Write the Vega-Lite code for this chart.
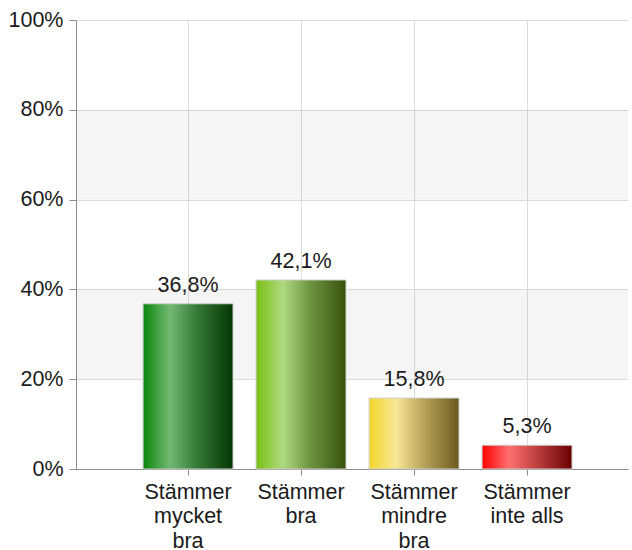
{
  "$schema": "https://vega.github.io/schema/vega-lite/v6.json",
  "autosize": {"type": "none"},
  "width": 552,
  "height": 449,
  "padding": {"left": 76, "top": 20, "right": 4, "bottom": 81},
  "background": "white",
  "config": {
    "view": {"stroke": null},
    "font": "Liberation Sans",
    "text": {"font": "Liberation Sans"}
  },
  "datasets": {
    "bars": [
      {"kategori": "Stämmer mycket bra", "andel": 36.8, "etikett": "36,8%"},
      {"kategori": "Stämmer bra", "andel": 42.1, "etikett": "42,1%"},
      {"kategori": "Stämmer mindre bra", "andel": 15.8, "etikett": "15,8%"},
      {"kategori": "Stämmer inte alls", "andel": 5.3, "etikett": "5,3%"}
    ],
    "bands": [
      {"fran": 20, "till": 40},
      {"fran": 60, "till": 80}
    ]
  },
  "layer": [
    {
      "data": {"name": "bars"},
      "mark": {"type": "bar", "opacity": 0},
      "encoding": {
        "x": {
          "field": "kategori", "type": "nominal", "sort": null,
          "scale": {"paddingInner": 0.204, "paddingOuter": 0.5445, "align": 0.545},
          "axis": {
            "title": null, "labelAngle": 0, "grid": true, "gridColor": "#dcdcdc",
            "domainColor": "#8c8c8c", "tickColor": "#8c8c8c", "tickSize": 6,
            "labelFontSize": 21.5, "labelColor": "#1a1a1a", "labelFont": "Liberation Sans",
            "labelLineHeight": 24.5, "labelPadding": 6, "labelBaseline": "top",
            "labelExpr": "datum.value == 'Stämmer inte alls' ? ['Stämmer', 'inte alls'] : split(datum.value, ' ')"
          }
        },
        "y": {
          "field": "andel", "type": "quantitative",
          "scale": {"domain": [0, 100]},
          "axis": {
            "title": null, "values": [0, 20, 40, 60, 80, 100], "grid": true, "gridColor": "#dcdcdc",
            "domainColor": "#8c8c8c", "tickColor": "#8c8c8c", "tickSize": 7,
            "labelFontSize": 21.5, "labelColor": "#1a1a1a", "labelFont": "Liberation Sans",
            "labelPadding": 6, "labelExpr": "datum.value + '%'"
          }
        }
      }
    },
    {
      "data": {"name": "bands"},
      "mark": {"type": "rect", "color": "#000000", "opacity": 0.04},
      "encoding": {
        "y": {"field": "fran", "type": "quantitative"},
        "y2": {"field": "till"}
      }
    },
    {
      "data": {"name": "bars"},
      "transform": [{"filter": "datum.kategori == 'Stämmer mycket bra'"}],
      "mark": {"type": "bar", "stroke": "#cfcfcf", "strokeWidth": 1,
        "color": {"gradient": "linear", "x1": 0, "x2": 1, "y1": 0, "y2": 0,
          "stops": [{"offset": 0, "color": "#0a870a"}, {"offset": 0.3, "color": "#72b872"}, {"offset": 0.6, "color": "#357a35"}, {"offset": 1, "color": "#033603"}]}},
      "encoding": {
        "x": {"field": "kategori", "type": "nominal", "sort": null},
        "y": {"field": "andel", "type": "quantitative"}
      }
    },
    {
      "data": {"name": "bars"},
      "transform": [{"filter": "datum.kategori == 'Stämmer bra'"}],
      "mark": {"type": "bar", "stroke": "#cfcfcf", "strokeWidth": 1,
        "color": {"gradient": "linear", "x1": 0, "x2": 1, "y1": 0, "y2": 0,
          "stops": [{"offset": 0, "color": "#78c012"}, {"offset": 0.3, "color": "#b0da80"}, {"offset": 0.6, "color": "#6d9440"}, {"offset": 1, "color": "#38520e"}]}},
      "encoding": {
        "x": {"field": "kategori", "type": "nominal", "sort": null},
        "y": {"field": "andel", "type": "quantitative"}
      }
    },
    {
      "data": {"name": "bars"},
      "transform": [{"filter": "datum.kategori == 'Stämmer mindre bra'"}],
      "mark": {"type": "bar", "stroke": "#cfcfcf", "strokeWidth": 1,
        "color": {"gradient": "linear", "x1": 0, "x2": 1, "y1": 0, "y2": 0,
          "stops": [{"offset": 0, "color": "#f5d62a"}, {"offset": 0.3, "color": "#f8e796"}, {"offset": 0.6, "color": "#b9a45a"}, {"offset": 1, "color": "#6a5a1e"}]}},
      "encoding": {
        "x": {"field": "kategori", "type": "nominal", "sort": null},
        "y": {"field": "andel", "type": "quantitative"}
      }
    },
    {
      "data": {"name": "bars"},
      "transform": [{"filter": "datum.kategori == 'Stämmer inte alls'"}],
      "mark": {"type": "bar", "stroke": "#cfcfcf", "strokeWidth": 1,
        "color": {"gradient": "linear", "x1": 0, "x2": 1, "y1": 0, "y2": 0,
          "stops": [{"offset": 0, "color": "#ff0000"}, {"offset": 0.3, "color": "#ff7070"}, {"offset": 0.6, "color": "#c04040"}, {"offset": 1, "color": "#6a0000"}]}},
      "encoding": {
        "x": {"field": "kategori", "type": "nominal", "sort": null},
        "y": {"field": "andel", "type": "quantitative"}
      }
    },
    {
      "data": {"name": "bars"},
      "mark": {"type": "text", "baseline": "alphabetic", "dy": -12, "fontSize": 21.5, "color": "#1a1a1a", "font": "Liberation Sans"},
      "encoding": {
        "x": {"field": "kategori", "type": "nominal", "sort": null},
        "y": {"field": "andel", "type": "quantitative"},
        "text": {"field": "etikett"}
      }
    }
  ]
}
